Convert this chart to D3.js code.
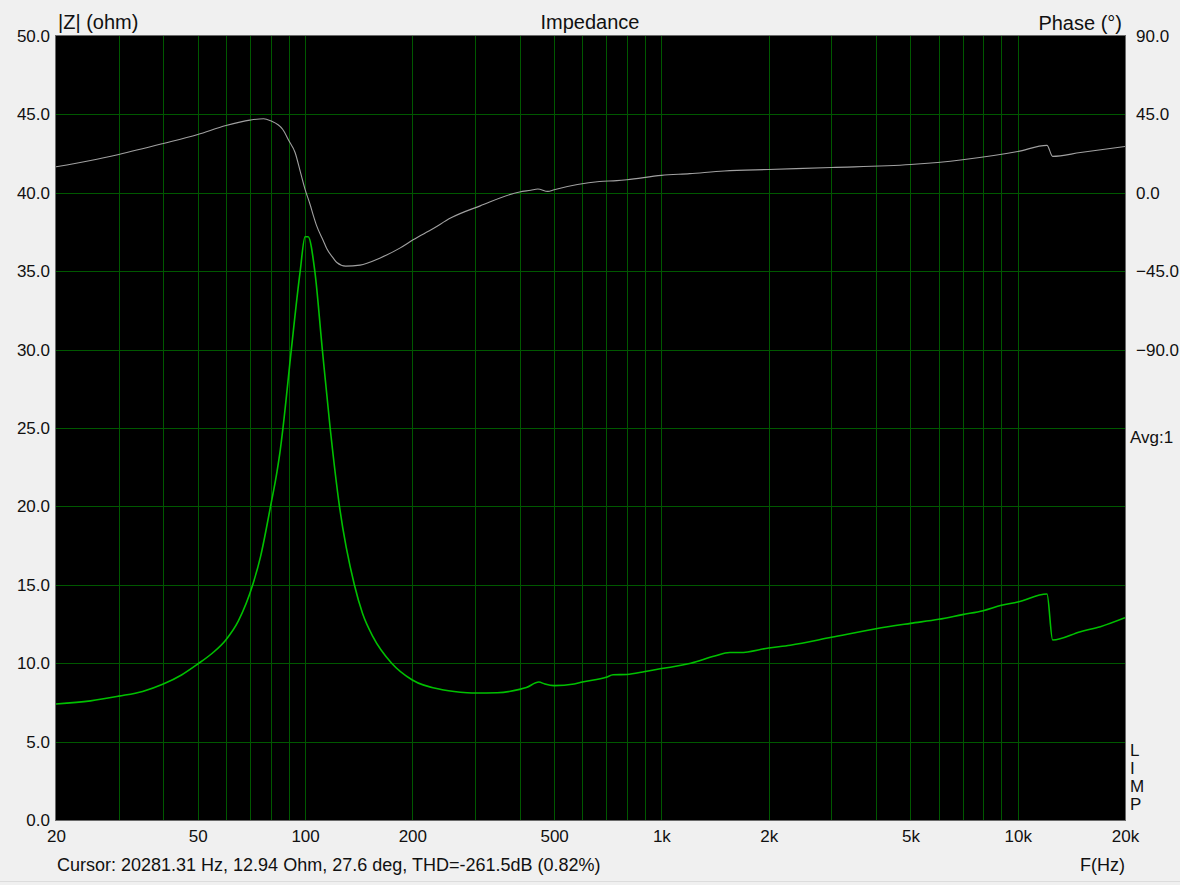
<!DOCTYPE html>
<html><head><meta charset="utf-8">
<script src="https://cdn.jsdelivr.net/npm/d3@7"></script>
<style>
html,body{margin:0;padding:0;background:#f0f0f0;}
svg{display:block;}
text{font-family:"Liberation Sans",Arial,sans-serif;fill:#111;}
</style></head>
<body>
<svg id="chart" width="1180" height="885"></svg>
<script>
// ---- data ----
const impFreq = [20,25,30,35,40,45,50,55,60,65,71.3,75,80,83.4,85.2,86.7,91.5,96.9,100,102,106.5,111.8,117.6,124.9,137.5,145,155,175,200,245,285,300,346,400,418,453,471,500,569,600,700,732,800,900,1000,1078,1209,1412,1555,1663,2000,2300,3000,4000,5000,6000,7000,8000,9000,10000,12080,12530,15000,17060,20000];
const impOhm  = [7.4,7.6,7.9,8.2,8.67,9.25,9.95,10.65,11.5,12.7,15.0,16.8,20.0,22.2,23.6,25.0,30.0,35.0,37.2,37.2,35.0,30.0,25.0,20.0,15.0,13.17,11.7,10.0,8.93,8.29,8.12,8.1,8.12,8.33,8.45,8.8,8.67,8.57,8.67,8.8,9.1,9.26,9.28,9.47,9.66,9.77,10.0,10.46,10.68,10.68,10.97,11.15,11.65,12.2,12.54,12.8,13.1,13.35,13.69,13.9,14.41,11.48,12.01,12.33,12.9];

const phFreq = [20,25,30,40,50,60,70,76.5,80,86.6,90,93.8,97,100,103.4,105.3,107.8,112.5,115,120,122.8,130,142.6,162,185,201,229,256,310,400,430,450,480,500,670,750,800,1000,1200,1500,2000,3000,5000,7000,10000,12080,12530,15000,20000];
const phDeg  = [14.9,18.5,22,28.3,33.5,38.6,41.7,42.5,41.3,36.3,30,23,12,2,-7,-12.5,-19,-27.5,-32,-37.5,-40,-42.1,-41.5,-37.5,-31.6,-27,-20.5,-14.5,-7.5,0.5,1.5,2.2,0.8,1.8,6.5,7,7.5,10,11,12.5,13.4,14.5,16.2,19,23.7,27.2,20.9,23.1,26.6];

const leftTicks = [0,5,10,15,20,25,30,35,40,45,50];
const rightTicks = [90,45,0,-45,-90];
const xLabelTicks = [20,50,100,200,500,1000,2000,5000,10000,20000];
const xLabelText = ["20","50","100","200","500","1k","2k","5k","10k","20k"];
const xGridTicks = [30,40,50,60,70,80,90,100,200,300,400,500,600,700,800,900,1000,2000,3000,4000,5000,6000,7000,8000,9000,10000];

// ---- layout ----
const L = 56, R = 1125, T = 36, B = 820;
const svg = d3.select("#chart");
const x = d3.scaleLog().domain([20,20000]).range([L,R]);
const yL = d3.scaleLinear().domain([0,50]).range([B,T]);
const yR = d3.scaleLinear().domain([-360,90]).range([B,T]);

svg.append("rect").attr("x",0).attr("y",0).attr("width",1180).attr("height",885).attr("fill","#f0f0f0");
svg.append("rect").attr("x",L).attr("y",T).attr("width",R-L).attr("height",B-T).attr("fill","#000");

const grid = svg.append("g").attr("stroke","#005800").attr("stroke-width",1).attr("shape-rendering","crispEdges");
grid.selectAll("line.v").data(xGridTicks).join("line")
  .attr("x1",d=>Math.round(x(d))+0.5).attr("x2",d=>Math.round(x(d))+0.5).attr("y1",T).attr("y2",B);
grid.selectAll("line.h").data(leftTicks.filter(d=>d>0&&d<50)).join("line")
  .attr("x1",L).attr("x2",R).attr("y1",d=>Math.round(yL(d))+0.5).attr("y2",d=>Math.round(yL(d))+0.5);

svg.append("rect").attr("x",L-0.5).attr("y",T-0.5).attr("width",R-L+1).attr("height",B-T+1)
  .attr("fill","none").attr("stroke","#6a6a6a").attr("stroke-width",1).attr("shape-rendering","crispEdges");

svg.append("clipPath").attr("id","pc").append("rect").attr("x",L).attr("y",T).attr("width",R-L).attr("height",B-T);

// phase curve
const phData = phFreq.map((f,i)=>[f,phDeg[i]]);
svg.append("path").datum(phData).attr("clip-path","url(#pc)")
  .attr("fill","none").attr("stroke","#a0a0a0").attr("stroke-width",1.1)
  .attr("d",d3.line().x(d=>x(d[0])).y(d=>yR(d[1])).curve(d3.curveMonotoneX));

// impedance curve
const impData = impFreq.map((f,i)=>[f,impOhm[i]]);
svg.append("path").datum(impData).attr("clip-path","url(#pc)")
  .attr("fill","none").attr("stroke","#00c000").attr("stroke-width",1.6)
  .attr("d",d3.line().x(d=>x(d[0])).y(d=>yL(d[1])).curve(d3.curveMonotoneX));

// axes via d3 axis
const fs = 17, ft = 20;
const font = "Liberation Sans, Arial, sans-serif";
const axL = svg.append("g").attr("transform",`translate(${L-6},0)`)
  .call(d3.axisLeft(yL).tickValues(leftTicks).tickFormat(d3.format(".1f")).tickSize(0).tickPadding(0));
axL.select(".domain").remove();
axL.selectAll("text").attr("font-size",fs).attr("fill","#111").attr("font-family",font);

const axR = svg.append("g").attr("transform",`translate(${R+11},0)`)
  .call(d3.axisRight(yR).tickValues(rightTicks).tickFormat(d3.format(".1f")).tickSize(0).tickPadding(0));
axR.select(".domain").remove();
axR.selectAll("text").attr("font-size",fs).attr("fill","#111").attr("font-family",font);

const axB = svg.append("g").attr("transform",`translate(0,${B+10})`)
  .call(d3.axisBottom(x).tickValues(xLabelTicks).tickFormat((d,i)=>xLabelText[i]).tickSize(0).tickPadding(0));
axB.select(".domain").remove();
axB.selectAll("text").attr("font-size",fs).attr("fill","#111").attr("font-family",font);

// titles
svg.append("text").attr("x",58).attr("y",29).attr("font-size",ft).text("|Z| (ohm)");
svg.append("text").attr("x",590).attr("y",29).attr("font-size",ft).attr("text-anchor","middle").text("Impedance");
svg.append("text").attr("x",1122).attr("y",30).attr("font-size",ft).attr("text-anchor","end").text("Phase (°)");
svg.append("text").attr("x",1130).attr("y",443).attr("font-size",fs).text("Avg:1");
["L","I","M","P"].forEach((c,i)=>{
  svg.append("text").attr("x",1130).attr("y",756+i*18).attr("font-size",fs).text(c);
});
svg.append("text").attr("x",1125).attr("y",871).attr("font-size",fs+1).attr("text-anchor","end").text("F(Hz)");
svg.append("text").attr("x",57).attr("y",871).attr("font-size",18).text("Cursor: 20281.31 Hz, 12.94 Ohm, 27.6 deg, THD=-261.5dB (0.82%)");
svg.append("line").attr("x1",0).attr("x2",1180).attr("y1",881.5).attr("y2",881.5).attr("stroke","#dcdcdc");
</script>
</body></html>
